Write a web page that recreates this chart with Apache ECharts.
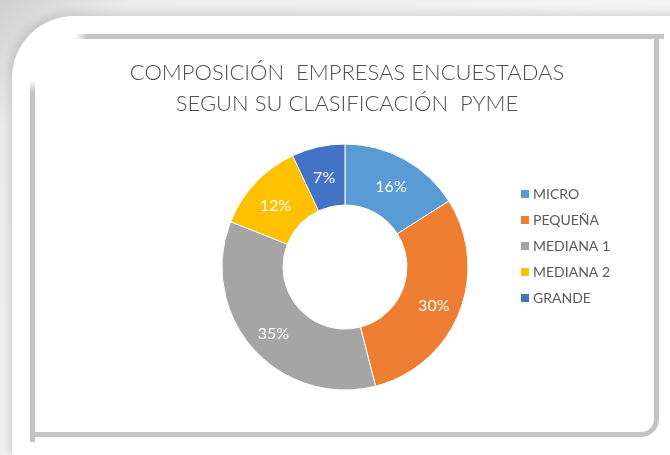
<!DOCTYPE html>
<html>
<head>
<meta charset="utf-8">
<script src="https://cdn.jsdelivr.net/npm/echarts@6/dist/echarts.min.js"></script>
<style>
  html, body { margin: 0; padding: 0; }
  body {
    width: 670px; height: 455px; overflow: hidden; position: relative;
    background: linear-gradient(135deg, #cfcfcf 0%, #ececec 12%, #f4f4f4 60%, #e2e2e2 100%);
  }
  /* marco blanco exterior */
  .outer {
    position: absolute; left: 12px; top: 16px; width: 700px; height: 440px;
    background: #fff; border-top-left-radius: 62px;
    box-shadow: -3px -3px 8px rgba(0,0,0,0.12);
  }
  /* borde gris interior, por lados (la esquina superior izquierda queda abierta) */
  .line { position: absolute; background: #c4c4c4; }
  .top { left: 75px; top: 34px; width: 589px; height: 5px;
         background: linear-gradient(90deg, rgba(196,196,196,0) 0, #c4c4c4 12px); }
  .left { left: 30px; top: 80px; width: 5px; height: 362px;
          background: linear-gradient(180deg, rgba(196,196,196,0) 0, #c4c4c4 12px); }
  .br {
    position: absolute; left: 30px; top: 34px; width: 624px; height: 398px;
    border-right: 5px solid #c4c4c4; border-bottom: 5px solid #c4c4c4;
    border-bottom-right-radius: 18px;
  }
  #chart { position: absolute; left: 0; top: 0; width: 670px; height: 455px; }
</style>
</head>
<body>
<div class="outer"></div>
<div class="br"></div>
<div class="line top"></div>
<div class="line left"></div>
<div id="chart"></div>
<script>
// datos del gráfico
const categorias = ['MICRO', 'PEQUEÑA', 'MEDIANA 1', 'MEDIANA 2', 'GRANDE']
const porcentajes = [16, 30, 35, 12, 7]
const colores = ['#5B9BD5', '#ED7D31', '#A5A5A5', '#FFC000', '#4472C4']

const chart = echarts.init(document.getElementById('chart'))

const option = {
  title: {
    text: 'COMPOSICIÓN  EMPRESAS ENCUESTADAS\nSEGUN SU CLASIFICACIÓN  PYME',
    left: 342,
    top: 52,
    textAlign: 'center',
    textStyle: {
      fontFamily: 'Lato',
      fontSize: 22,
      fontWeight: 300,
      color: '#4f4f4f',
      lineHeight: 31
    }
  },
  legend: {
    orient: 'vertical',
    left: 514,
    top: 182,
    itemWidth: 10,
    itemHeight: 10,
    itemGap: 12,
    icon: 'rect',
    data: categorias,
    textStyle: {
      fontFamily: 'Lato',
      fontSize: 14,
      color: '#595959',
      padding: [0, 0, 0, -2]
    }
  },
  series: [
    {
      type: 'pie',
      center: [345, 267],
      radius: [62, 123],
      startAngle: 90,
      clockwise: true,
      silent: true,
      itemStyle: {
        borderColor: '#fff',
        borderWidth: 1
      },
      label: {
        show: true,
        position: 'inside',
        formatter: '{c}%',
        color: '#fff',
        fontFamily: 'Lato',
        fontSize: 16,
        offset: [0, 4]
      },
      labelLine: { show: false },
      data: categorias.map((name, i) => ({
        name: name,
        value: porcentajes[i],
        itemStyle: { color: colores[i] }
      }))
    }
  ]
}

chart.setOption(option)
</script>
</body>
</html>
